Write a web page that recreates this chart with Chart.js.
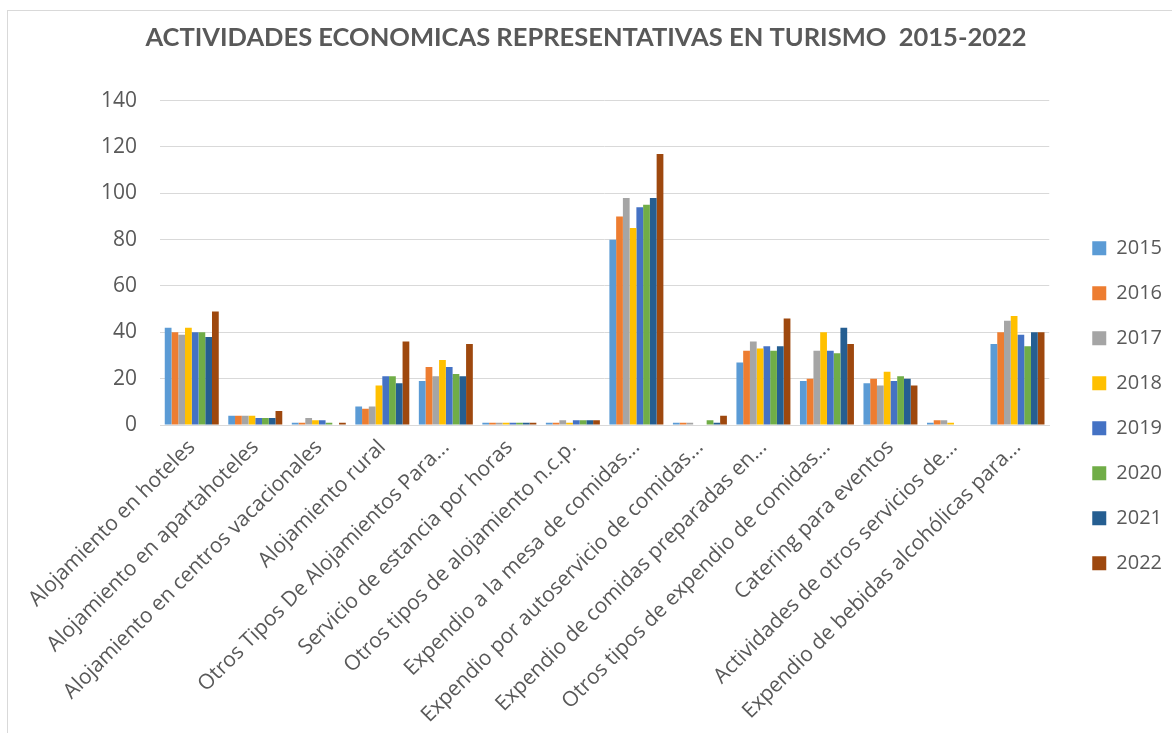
<!DOCTYPE html>
<html lang="es">
<head>
<meta charset="utf-8">
<title>Actividades economicas representativas en turismo 2015-2022</title>
<script src="https://cdn.jsdelivr.net/npm/chart.js@4.4.1/dist/chart.umd.min.js"></script>
<style>
    body { margin: 0; background: #fff; }
    .frame {
        position: absolute; left: 7px; top: 10px;
        width: 1300px; height: 900px;
        border: 1px solid #d9d9d9;
    }
    .container { position: absolute; left: 0; top: 0; width: 1172px; height: 733px; }
</style>
</head>
<body>
<div class="frame"></div>
<div class="container"><canvas id="rateChart"></canvas></div>
<script>
// categories as shown on the axis (already cut by the original chart)
const categories = [
    'Alojamiento en hoteles',
    'Alojamiento en apartahoteles',
    'Alojamiento en centros vacacionales',
    'Alojamiento rural',
    'Otros Tipos De Alojamientos Para...',
    'Servicio de estancia por horas',
    'Otros tipos de alojamiento n.c.p.',
    'Expendio a la mesa de comidas...',
    'Expendio por autoservicio de comidas...',
    'Expendio de comidas preparadas en...',
    'Otros tipos de expendio de comidas...',
    'Catering para eventos',
    'Actividades de otros servicios de...',
    'Expendio de bebidas alcohólicas para...'
];

const years = ['2015', '2016', '2017', '2018', '2019', '2020', '2021', '2022'];

const y2015 = [42, 4, 1, 8, 19, 1, 1, 80, 1, 27, 19, 18, 1, 35];
const y2016 = [40, 4, 1, 7, 25, 1, 1, 90, 1, 32, 20, 20, 2, 40];
const y2017 = [39, 4, 3, 8, 21, 1, 2, 98, 1, 36, 32, 17, 2, 45];
const y2018 = [42, 4, 2, 17, 28, 1, 1, 85, 0, 33, 40, 23, 1, 47];
const y2019 = [40, 3, 2, 21, 25, 1, 2, 94, 0, 34, 32, 19, 0, 39];
const y2020 = [40, 3, 1, 21, 22, 1, 2, 95, 2, 32, 31, 21, 0, 34];
const y2021 = [38, 3, 0, 18, 21, 1, 2, 98, 1, 34, 42, 20, 0, 40];
const y2022 = [49, 6, 1, 36, 35, 1, 2, 117, 4, 46, 35, 17, 0, 40];

const yTicks = [0, 20, 40, 60, 80, 100, 120, 140];

const seriesValues = [y2015, y2016, y2017, y2018, y2019, y2020, y2021, y2022];
const colors = ['#5b9bd5', '#ed7d31', '#a5a5a5', '#ffc000', '#4472c4', '#70ad47', '#255e91', '#9e480e'];

const textColor = '#595959';
const gridColor = '#d9d9d9';

const ctx = document.getElementById('rateChart').getContext('2d');
new Chart(ctx, {
    type: 'bar',
    data: {
        labels: categories,
        datasets: years.map((year, i) => ({
            label: year,
            data: seriesValues[i],
            backgroundColor: colors[i],
            borderWidth: 0,
            barPercentage: 1,
            categoryPercentage: 0.85
        }))
    },
    options: {
        responsive: true,
        maintainAspectRatio: false,
        animation: false,
        layout: { padding: 0 },
        plugins: {
            title: {
                display: true,
                text: 'ACTIVIDADES ECONOMICAS REPRESENTATIVAS EN TURISMO  2015-2022',
                color: textColor,
                font: { family: 'Lato', size: 25.5, weight: 'bold' },
                padding: { top: 22, bottom: 48 }
            },
            legend: {
                position: 'right',
                // empty title only pushes the items down to where the original has them
                title: { display: true, text: ' ', font: { size: 12 }, padding: { top: 64, bottom: 0 } },
                labels: {
                    boxWidth: 14,
                    boxHeight: 14,
                    padding: 25,
                    color: textColor,
                    font: { family: 'Open Sans', size: 20 }
                }
            },
            tooltip: { enabled: false }
        },
        scales: {
            x: {
                grid: { display: false },
                border: { display: true, color: gridColor },
                ticks: {
                    color: textColor,
                    font: { family: 'Open Sans', size: 21 },
                    autoSkip: false,
                    minRotation: 45,
                    maxRotation: 45,
                    padding: 2
                },
                afterFit: scale => { scale.height = 308; }
            },
            y: {
                min: 0,
                max: 140,
                grid: { color: gridColor, drawTicks: false },
                border: { display: false },
                ticks: {
                    color: textColor,
                    font: { family: 'Open Sans', size: 21 },
                    padding: 23,
                    stepSize: 20
                },
                afterBuildTicks: scale => { scale.ticks = yTicks.map(v => ({ value: v })); },
                afterFit: scale => { scale.width = 160; }
            },
            // spacer between plot and legend
            gap: {
                position: 'right',
                display: true,
                grid: { display: false },
                border: { display: false },
                ticks: { display: false },
                afterFit: scale => { scale.width = 18; }
            }
        }
    }
});
</script>
</body>
</html>
